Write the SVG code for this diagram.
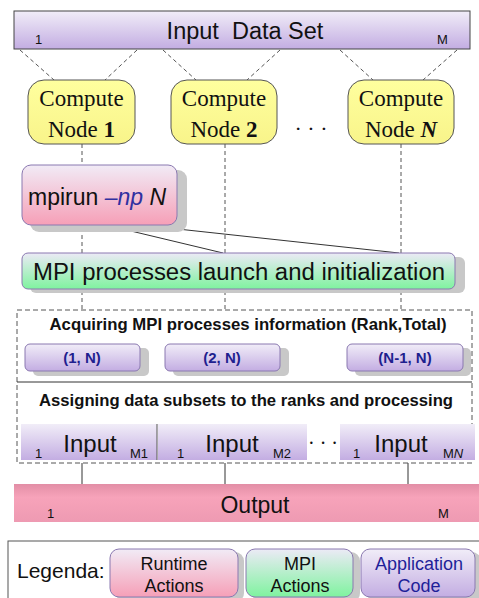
<svg xmlns="http://www.w3.org/2000/svg" width="479" height="598" viewBox="0 0 479 598">
<defs>
<linearGradient id="gPurple" x1="0" y1="0" x2="0" y2="1"><stop offset="0" stop-color="#f1edf8"/><stop offset="1" stop-color="#c3ade2"/></linearGradient>
<linearGradient id="gPink" x1="0" y1="0" x2="0" y2="1"><stop offset="0" stop-color="#f1ebf6"/><stop offset="1" stop-color="#f69fb7"/></linearGradient>
<linearGradient id="gGreen" x1="0" y1="0" x2="0" y2="1"><stop offset="0" stop-color="#eceaf6"/><stop offset="1" stop-color="#7ff39f"/></linearGradient>
<linearGradient id="gOut" x1="0" y1="0" x2="0" y2="1"><stop offset="0" stop-color="#e28ea6"/><stop offset="0.35" stop-color="#f7a3ba"/><stop offset="1" stop-color="#ee9ab2"/></linearGradient>
<linearGradient id="gYellow" x1="0" y1="0" x2="0" y2="1"><stop offset="0" stop-color="#ffff9e"/><stop offset="1" stop-color="#f8f48a"/></linearGradient>
</defs>
<style>
.sans{font-family:"Liberation Sans",Arial,sans-serif}
.serif{font-family:"Liberation Serif","Times New Roman",serif}
.box{stroke:#8a78b0;stroke-width:1}
.shadow{fill:#c8c8c8}
.dash{stroke:#555;stroke-width:1;stroke-dasharray:4,3;fill:none}
.solid{stroke:#333;stroke-width:1;fill:none}
.node{fill:url(#gYellow);stroke:#555;stroke-width:1}
.ct{font-size:23px;fill:#111;text-anchor:middle}
.rank{font-size:15px;font-weight:bold;fill:#1f1f8f;text-anchor:middle}
.small{font-size:13px;fill:#111}
.inp{font-size:24px;fill:#111;text-anchor:middle}
</style>

<g id="connectors">
<line class="dash" x1="20" y1="50" x2="54" y2="80"/>
<line class="dash" x1="137" y1="50" x2="105" y2="80"/>
<line class="dash" x1="163" y1="50" x2="196" y2="80"/>
<line class="dash" x1="280" y1="50" x2="247" y2="80"/>
<line class="dash" x1="340" y1="50" x2="373" y2="80"/>
<line class="dash" x1="457" y1="50" x2="423" y2="80"/>
<line class="dash" x1="82" y1="144" x2="82" y2="310"/>
<line class="dash" x1="225" y1="144" x2="225" y2="310"/>
<line class="dash" x1="401" y1="144" x2="401" y2="310"/>
<line class="solid" x1="110" y1="226" x2="223" y2="253"/>
<line class="solid" x1="150" y1="226" x2="399" y2="253"/>
<line class="solid" x1="82" y1="463" x2="82" y2="484"/>
<line class="solid" x1="225" y1="463" x2="225" y2="484"/>
<line class="solid" x1="408" y1="463" x2="408" y2="484"/>
</g>

<g id="input-data-set">
<rect x="14" y="11" width="456" height="38" fill="url(#gPurple)" stroke="#444" stroke-width="1"/>
<text class="sans" x="245" y="39" font-size="23.5" text-anchor="middle" fill="#111" xml:space="preserve">Input  Data Set</text>
<text class="sans small" x="35" y="44">1</text>
<text class="sans small" x="437" y="44">M</text>
</g>

<g id="compute-node-1">
<rect class="node" x="28" y="80" width="107" height="64" rx="16"/>
<text class="serif ct" x="81.5" y="106">Compute</text>
<text class="serif ct" x="81.5" y="137">Node <tspan font-weight="bold">1</tspan></text>
</g>
<g id="compute-node-2">
<rect class="node" x="171" y="80" width="106" height="64" rx="16"/>
<text class="serif ct" x="224" y="106">Compute</text>
<text class="serif ct" x="224" y="137">Node <tspan font-weight="bold">2</tspan></text>
</g>
<g id="dots-nodes">
<text class="serif" x="311" y="136" font-size="22" text-anchor="middle" fill="#111">· · ·</text>
</g>
<g id="compute-node-n">
<rect class="node" x="348" y="80" width="106" height="64" rx="16"/>
<text class="serif ct" x="401" y="106">Compute</text>
<text class="serif ct" x="401" y="137">Node <tspan font-weight="bold" font-style="italic">N</tspan></text>
</g>

<g id="mpirun">
<rect class="shadow" x="30" y="170" width="157" height="62" rx="9"/>
<rect class="box" x="22" y="165" width="155" height="60" rx="9" fill="url(#gPink)"/>
<text class="sans" x="28" y="205" font-size="23" fill="#111">mpirun <tspan fill="#3030a0" font-style="italic">–np</tspan> <tspan font-style="italic">N</tspan></text>
</g>

<g id="mpi-launch">
<rect class="shadow" x="30" y="257" width="435" height="36" rx="6"/>
<rect class="box" x="22" y="253" width="433" height="36" rx="6" fill="url(#gGreen)"/>
<text class="sans" x="239" y="280" font-size="23.5" text-anchor="middle" fill="#111" textLength="412" lengthAdjust="spacingAndGlyphs">MPI processes launch and initialization</text>
</g>

<g id="processing-area">
<rect x="17" y="310" width="455" height="153" fill="none" stroke="#555" stroke-dasharray="5,3"/>
<line x1="17" y1="382" x2="472" y2="382" stroke="#333" stroke-width="1"/>
<text class="sans" x="248" y="330" font-size="16.5" font-weight="bold" text-anchor="middle" fill="#111" textLength="397" lengthAdjust="spacingAndGlyphs">Acquiring MPI processes information (Rank,Total)</text>
<text class="sans" x="246" y="406" font-size="16.5" font-weight="bold" text-anchor="middle" fill="#111" textLength="414" lengthAdjust="spacingAndGlyphs">Assigning data subsets to the ranks and processing</text>
</g>

<g id="rank-1">
<rect class="shadow" x="33" y="348" width="116" height="28" rx="5"/>
<rect class="box" x="25" y="344" width="115" height="27" rx="5" fill="url(#gPurple)"/>
<text class="sans rank" x="82" y="363">(1, N)</text>
</g>
<g id="rank-2">
<rect class="shadow" x="173" y="348" width="116" height="28" rx="5"/>
<rect class="box" x="165" y="344" width="115" height="27" rx="5" fill="url(#gPurple)"/>
<text class="sans rank" x="222" y="363">(2, N)</text>
</g>
<g id="rank-n">
<rect class="shadow" x="355" y="348" width="116" height="28" rx="5"/>
<rect class="box" x="347" y="344" width="116" height="27" rx="5" fill="url(#gPurple)"/>
<text class="sans rank" x="405" y="363">(N-1, N)</text>
</g>

<g id="input-1">
<rect x="21" y="424" width="136" height="36" fill="url(#gPurple)"/>
<text class="sans inp" x="90" y="452">Input</text>
<text class="sans small" x="35" y="458">1</text>
<text class="sans small" x="130" y="458">M1</text>
</g>
<line x1="157" y1="424" x2="157" y2="460" stroke="#555" stroke-width="1"/>
<g id="input-2">
<rect x="158" y="424" width="149" height="36" fill="url(#gPurple)"/>
<text class="sans inp" x="232" y="452">Input</text>
<text class="sans small" x="177" y="458">1</text>
<text class="sans small" x="273" y="458">M2</text>
</g>
<g id="dots-inputs">
<text class="serif" x="323" y="450" font-size="20" text-anchor="middle" fill="#111">· · ·</text>
</g>
<g id="input-n">
<rect x="340" y="424" width="135" height="36" fill="url(#gPurple)"/>
<text class="sans inp" x="401" y="452">Input</text>
<text class="sans small" x="353" y="458">1</text>
<text class="sans small" x="443" y="458">M<tspan font-style="italic">N</tspan></text>
</g>

<g id="output">
<rect x="14" y="484" width="465" height="38" fill="url(#gOut)"/>
<text class="sans" x="255" y="513" font-size="23" text-anchor="middle" fill="#111">Output</text>
<text class="sans small" x="47" y="518">1</text>
<text class="sans small" x="438" y="518">M</text>
</g>

<g id="legend">
<rect x="8" y="541" width="480" height="70" fill="#fff" stroke="#555" stroke-width="1"/>
<text class="sans" x="17" y="578" font-size="21" fill="#111">Legenda:</text>
</g>
<g id="legend-runtime">
<rect class="shadow" x="116" y="552" width="128" height="50" rx="9"/>
<rect class="box" x="110" y="549" width="128" height="48" rx="9" fill="url(#gPink)"/>
<text class="sans" x="174" y="570" font-size="18" text-anchor="middle" fill="#111">Runtime</text>
<text class="sans" x="174" y="592" font-size="18" text-anchor="middle" fill="#111">Actions</text>
</g>
<g id="legend-mpi">
<rect class="shadow" x="252" y="552" width="108" height="50" rx="9"/>
<rect class="box" x="246" y="549" width="107" height="48" rx="9" fill="url(#gGreen)"/>
<text class="sans" x="300" y="570" font-size="18" text-anchor="middle" fill="#111">MPI</text>
<text class="sans" x="300" y="592" font-size="18" text-anchor="middle" fill="#111">Actions</text>
</g>
<g id="legend-app">
<rect class="shadow" x="367" y="552" width="114" height="50" rx="9"/>
<rect class="box" x="361" y="549" width="114" height="48" rx="9" fill="url(#gPurple)"/>
<text class="sans" x="419" y="570" font-size="18" text-anchor="middle" fill="#1f1f99">Application</text>
<text class="sans" x="419" y="592" font-size="18" text-anchor="middle" fill="#1f1f99">Code</text>
</g>
</svg>
